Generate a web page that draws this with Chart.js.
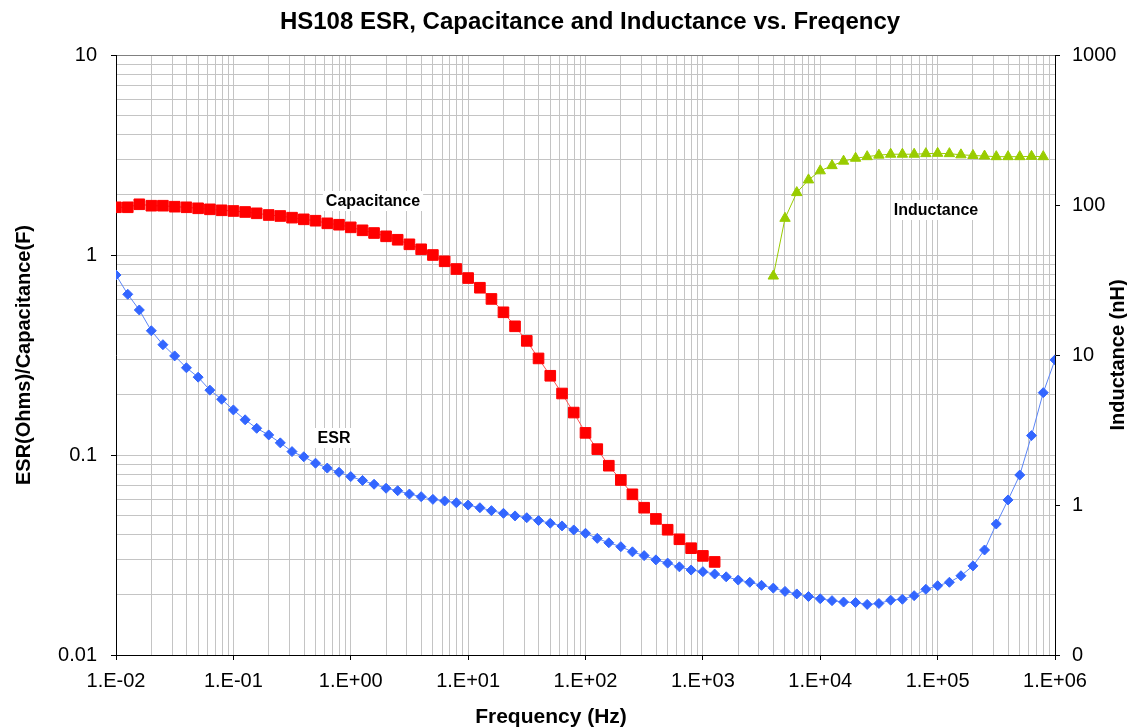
<!DOCTYPE html>
<html>
<head>
<meta charset="utf-8">
<script src="https://cdn.jsdelivr.net/npm/chart.js@4/dist/chart.umd.min.js"></script>
<style>
  body { margin: 0; background: #fff; }
  canvas { display: block; }
</style>
</head>
<body>
<canvas id="chart" width="1127" height="728"></canvas>
<script>
// frequencies, 10 points per decade
var freq = [
    0.01, 0.0126, 0.0158, 0.02, 0.0251, 0.0316, 0.0398, 0.0501, 0.0631, 0.0794,
    0.1, 0.126, 0.158, 0.2, 0.251, 0.316, 0.398, 0.501, 0.631, 0.794,
    1, 1.26, 1.58, 2, 2.51, 3.16, 3.98, 5.01, 6.31, 7.94,
    10, 12.6, 15.8, 20, 25.1, 31.6, 39.8, 50.1, 63.1, 79.4,
    100, 126, 158, 200, 251, 316, 398, 501, 631, 794,
    1000, 1260, 1580, 2000, 2510, 3160, 3980, 5010, 6310, 7940,
    10000, 12600, 15800, 20000, 25100, 31600, 39800, 50100, 63100, 79400,
    100000, 126000, 158000, 200000, 251000, 316000, 398000, 501000, 631000, 794000,
    1000000
];

// ESR (Ohms), one value per frequency
var esr = [
    0.794, 0.636, 0.531, 0.418, 0.356, 0.313, 0.273, 0.245, 0.211, 0.190,
    0.168, 0.150, 0.136, 0.126, 0.115, 0.104, 0.098, 0.091, 0.086, 0.082,
    0.078, 0.0746, 0.0714, 0.0682, 0.0663, 0.0638, 0.0619, 0.0600, 0.0589, 0.0577,
    0.0562, 0.0545, 0.0527, 0.0511, 0.0496, 0.0486, 0.0470, 0.0456, 0.0442, 0.0422,
    0.0406, 0.0383, 0.0364, 0.0348, 0.0328, 0.0314, 0.0299, 0.0288, 0.0276, 0.0266,
    0.0261, 0.0254, 0.0246, 0.0237, 0.0231, 0.0223, 0.0216, 0.0208, 0.0202, 0.0196,
    0.0191, 0.0187, 0.0184, 0.0183, 0.0179, 0.0181, 0.0188, 0.0190, 0.0198, 0.0213,
    0.0222, 0.0231, 0.0249, 0.0279, 0.0335, 0.0452, 0.0596, 0.0794, 0.125, 0.205,
    0.299
];

// Capacitance (F), first 52 frequencies (0.01 Hz .. 1260 Hz)
var capacitance = [
    1.732, 1.732, 1.793, 1.764, 1.764, 1.744, 1.732, 1.712, 1.692, 1.673,
    1.660, 1.641, 1.616, 1.585, 1.567, 1.537, 1.508, 1.484, 1.440, 1.417,
    1.375, 1.329, 1.288, 1.240, 1.192, 1.131, 1.068, 1.000, 0.930, 0.851,
    0.767, 0.686, 0.603, 0.517, 0.440, 0.372, 0.304, 0.249, 0.203, 0.163,
    0.129, 0.107, 0.0884, 0.0750, 0.0636, 0.0545, 0.0479, 0.0423, 0.0379, 0.0342,
    0.0313, 0.0292
];

// Inductance (nH), frequencies 3980 Hz .. 794000 Hz
var inductance = [
    33.6, 81.5, 121, 147, 169, 183, 196, 205, 210, 215,
    218, 218, 218, 220, 221, 220, 216, 214, 212, 210,
    210, 210, 211, 210
];

var capFreq = freq.slice(0, 52);
var indFreq = freq.slice(56, 80);

var xTicks = [];
var leftTicks = [];
var rightTickValues = [0.1, 1, 10, 100, 1000];
for (var e = -2; e <= 5; e++) {
    for (var m = 1; m <= 9; m++) xTicks.push(Number((m * Math.pow(10, e)).toPrecision(3)));
}
xTicks.push(1000000);
for (var e2 = -2; e2 <= 0; e2++) {
    for (var m2 = 1; m2 <= 9; m2++) leftTicks.push(Number((m2 * Math.pow(10, e2)).toPrecision(3)));
}
leftTicks.push(10);

function pairs(xs, ys) {
    return ys.map(function (y, i) { return { x: xs[i], y: y }; });
}

function isDecade(v) {
    var l = Math.log10(v);
    return Math.abs(l - Math.round(l)) < 1e-6;
}

var FONT = "'Liberation Sans', Arial, sans-serif";
var GRID = "#c4c4c4";

var textPlugin = {
    id: "texts",
    beforeDatasetsDraw: function (chart) {
        var ctx = chart.ctx;
        var labels = [
            { text: "Capacitance", x: 373, y: 206 },
            { text: "ESR", x: 334, y: 443 },
            { text: "Inductance", x: 936, y: 215 }
        ];
        ctx.save();
        ctx.font = "bold 16px " + FONT;
        ctx.textAlign = "center";
        ctx.textBaseline = "alphabetic";
        labels.forEach(function (l) {
            var w = ctx.measureText(l.text).width;
            ctx.fillStyle = "#fff";
            ctx.fillRect(l.x - w / 2 - 3, l.y - 15, w + 6, 20);
            ctx.fillStyle = "#000";
            ctx.fillText(l.text, l.x, l.y);
        });
        ctx.restore();
    },
    afterDraw: function (chart) {
        var ctx = chart.ctx;
        ctx.save();
        ctx.fillStyle = "#000";
        ctx.textAlign = "center";
        ctx.textBaseline = "alphabetic";
        ctx.font = "bold 24px " + FONT;
        ctx.fillText("HS108 ESR, Capacitance and Inductance vs. Freqency", 590, 29);
        ctx.font = "bold 21px " + FONT;
        ctx.fillText("Frequency (Hz)", 551, 723);
        ctx.font = "bold 20px " + FONT;
        ctx.translate(30, 355);
        ctx.rotate(-Math.PI / 2);
        ctx.fillText("ESR(Ohms)/Capacitance(F)", 0, 0);
        ctx.restore();
        ctx.save();
        ctx.fillStyle = "#000";
        ctx.textAlign = "center";
        ctx.font = "bold 20px " + FONT;
        ctx.translate(1124, 355);
        ctx.rotate(-Math.PI / 2);
        ctx.fillText("Inductance (nH)", 0, 0);
        ctx.restore();
    }
};

document.addEventListener("DOMContentLoaded", function () {
    var ctx = document.getElementById("chart").getContext("2d");

    var chart = new Chart(ctx, {
        type: "scatter",
        data: {
            datasets: [
                {
                    label: "ESR",
                    data: pairs(freq, esr),
                    yAxisID: "y",
                    showLine: true,
                    borderColor: "#5b85f7",
                    borderWidth: 1,
                    pointStyle: "rectRot",
                    pointRadius: 5,
                    pointBackgroundColor: "#3366ff",
                    pointBorderColor: "#3366ff",
                    pointBorderWidth: 1
                },
                {
                    label: "Capacitance",
                    data: pairs(capFreq, capacitance),
                    yAxisID: "y",
                    showLine: true,
                    borderColor: "#ff5050",
                    borderWidth: 1,
                    pointStyle: "rect",
                    pointRadius: 7.5,
                    pointBackgroundColor: "#ff0000",
                    pointBorderColor: "#ff0000",
                    pointBorderWidth: 1
                },
                {
                    label: "Inductance",
                    data: pairs(indFreq, inductance),
                    yAxisID: "y2",
                    showLine: true,
                    borderColor: "#99cc00",
                    borderWidth: 1,
                    pointStyle: "triangle",
                    pointRadius: 6,
                    pointBackgroundColor: "#99cc00",
                    pointBorderColor: "#99cc00",
                    pointBorderWidth: 1
                }
            ]
        },
        options: {
            responsive: false,
            animation: false,
            layout: { padding: { top: 55, left: 0, right: 0, bottom: 0 } },
            plugins: {
                legend: { display: false },
                tooltip: { enabled: false },
                title: { display: false }
            },
            scales: {
                x: {
                    type: "logarithmic",
                    position: "bottom",
                    min: 0.01,
                    max: 1000000,
                    afterFit: function (scale) { scale.height = 73; },
                    afterBuildTicks: function (scale) {
                        scale.ticks = xTicks.map(function (v) { return { value: v }; });
                    },
                    border: { color: "#000", width: 1 },
                    grid: {
                        color: function (c) {
                            return c.tick && c.tick.value === 1000000 ? "rgba(0,0,0,0)" : GRID;
                        },
                        tickLength: 5,
                        tickColor: function (c) {
                            return c.tick && isDecade(c.tick.value) ? "#000" : "rgba(0,0,0,0)";
                        }
                    },
                    ticks: {
                        autoSkip: false,
                        maxRotation: 0,
                        padding: 9,
                        color: "#000",
                        font: { family: FONT, size: 20 },
                        callback: function (value) {
                            if (!isDecade(value)) return "";
                            var p = Math.round(Math.log10(value));
                            var s = Math.abs(p) < 10 ? "0" + Math.abs(p) : String(Math.abs(p));
                            return "1.E" + (p < 0 ? "-" : "+") + s;
                        }
                    }
                },
                y: {
                    type: "logarithmic",
                    position: "left",
                    min: 0.01,
                    max: 10,
                    afterFit: function (scale) { scale.width = 116; },
                    afterBuildTicks: function (scale) {
                        scale.ticks = leftTicks.map(function (v) { return { value: v }; });
                    },
                    border: { color: "#000", width: 1 },
                    grid: {
                        color: function (c) {
                            return c.tick && c.tick.value === 10 ? "#808080" : GRID;
                        },
                        tickLength: 5,
                        tickColor: function (c) {
                            return c.tick && isDecade(c.tick.value) ? "#000" : "rgba(0,0,0,0)";
                        }
                    },
                    ticks: {
                        autoSkip: false,
                        padding: 14,
                        color: "#000",
                        font: { family: FONT, size: 20 },
                        callback: function (value) {
                            return isDecade(value) ? String(value) : "";
                        }
                    }
                },
                y2: {
                    type: "logarithmic",
                    position: "right",
                    min: 0.1,
                    max: 1000,
                    afterFit: function (scale) { scale.width = 72; },
                    afterBuildTicks: function (scale) {
                        scale.ticks = rightTickValues.map(function (v) { return { value: v }; });
                    },
                    border: { color: "#000", width: 1 },
                    grid: {
                        drawOnChartArea: false,
                        tickLength: 5,
                        tickColor: "#000"
                    },
                    ticks: {
                        autoSkip: false,
                        padding: 12,
                        color: "#000",
                        font: { family: FONT, size: 20 },
                        callback: function (value) {
                            return value < 1 ? "0" : String(value);
                        }
                    }
                }
            }
        },
        plugins: [textPlugin]
    });
});
</script>
</body>
</html>
